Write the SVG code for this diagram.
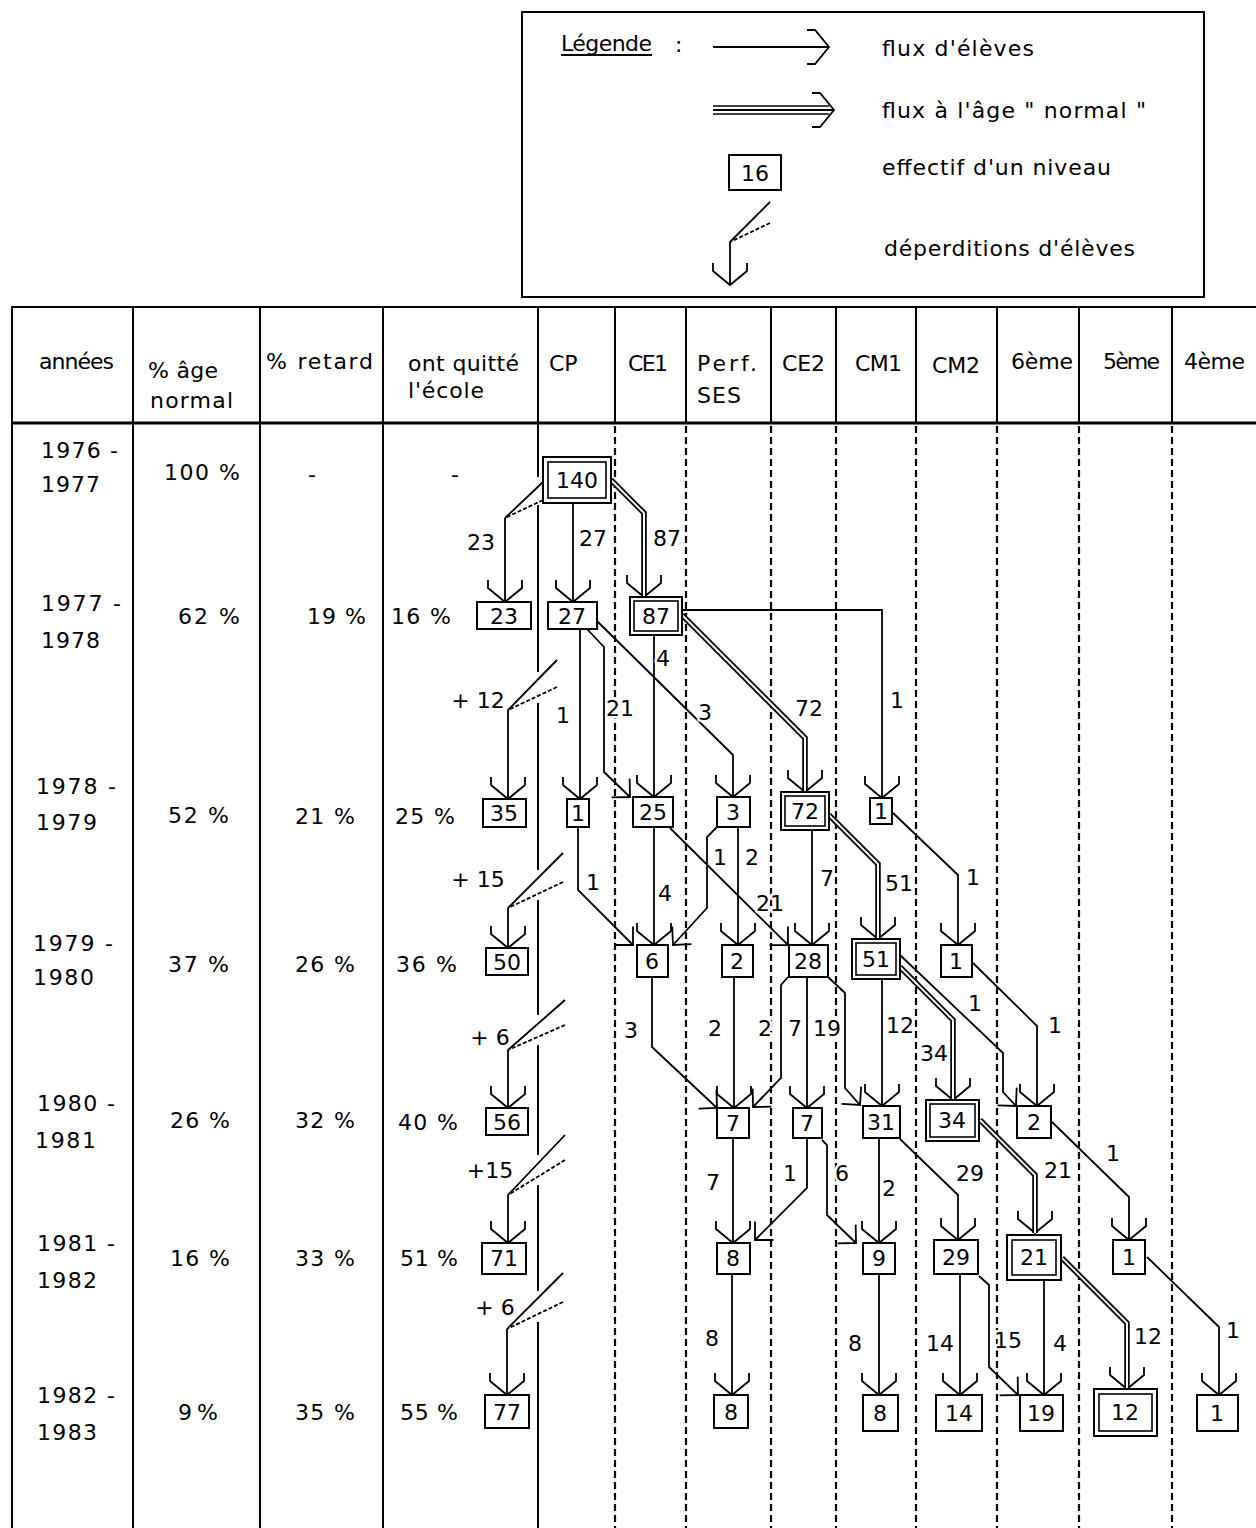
<svg xmlns="http://www.w3.org/2000/svg" width="1256" height="1528" viewBox="0 0 1256 1528">
<defs>
<marker id="av" markerUnits="userSpaceOnUse" markerWidth="40" markerHeight="40" viewBox="-30 -20 40 40" refX="0" refY="0" orient="auto" overflow="visible">
<path d="M-22,-17 L-14,-17 L0,0 L-14,17 L-22,17" fill="none" stroke="#000" stroke-width="1.8"/>
</marker>
<marker id="ad" markerUnits="userSpaceOnUse" markerWidth="40" markerHeight="40" viewBox="-30 -20 40 40" refX="0" refY="0" orient="auto" overflow="visible">
<path d="M-13,-13 L0,0 L-13,13" fill="none" stroke="#000" stroke-width="1.8"/>
</marker>
</defs>
<style>
.t{font-family:"DejaVu Sans","Liberation Sans",sans-serif;font-size:22px;fill:#000}
.c{text-anchor:middle;dominant-baseline:central}
.s{dominant-baseline:central}
.lb{paint-order:stroke;stroke:#fff;stroke-width:5px;stroke-linejoin:round}
.g line{stroke:#000;stroke-width:2}
.d line{stroke:#000;stroke-width:2.2;stroke-dasharray:7 4}
.f{fill:none;stroke:#000;stroke-width:1.8}
.a{marker-end:url(#av)}
.ad{marker-end:url(#ad)}
.l2{stroke-dasharray:4 2}
.db{fill:none;stroke:#000;stroke-width:5.5;marker-end:url(#av)}
.dw{fill:none;stroke:#fff;stroke-width:2}
.n rect{fill:#fff;stroke:#000;stroke-width:2}
.n rect.i{fill:none;stroke-width:1.6}
</style>
<rect width="1256" height="1528" fill="#fff"/>

<!-- Legend -->
<g id="legend">
<rect x="522" y="12" width="682" height="285" fill="none" stroke="#000" stroke-width="2"/>
<text class="t s" x="561" y="43" textLength="91">Légende</text>
<line x1="561" y1="55" x2="652" y2="55" stroke="#000" stroke-width="2"/>
<text class="t s" x="675" y="44">:</text>
<path class="f a" d="M713,47 H829"/>
<text class="t s" x="882" y="48" textLength="152">flux d'élèves</text>
<line x1="713" y1="106" x2="829" y2="106" stroke="#000" stroke-width="1.6"/>
<line x1="713" y1="114" x2="829" y2="114" stroke="#000" stroke-width="1.6"/>
<path class="f a" d="M713,110 H834"/>
<text class="t s" x="882" y="110" textLength="264">flux à l'âge " normal "</text>
<rect x="729" y="155" width="52" height="35" fill="#fff" stroke="#000" stroke-width="2"/>
<text class="t c" x="755" y="173">16</text>
<text class="t s" x="882" y="167" textLength="229">effectif d'un niveau</text>
<path class="f" d="M770,202 L730,242"/>
<path class="f l2" d="M770,223 L730,242"/>
<path class="f a" d="M730,242 V285"/>
<text class="t s" x="884" y="248" textLength="251">déperditions d'élèves</text>
</g>

<!-- Table -->
<g id="table">
<g class="g">
<line x1="11" y1="307" x2="1256" y2="307"/>
<line x1="11" y1="423" x2="1256" y2="423" style="stroke-width:3"/>
<line x1="12" y1="306" x2="12" y2="1528"/>
<line x1="133" y1="306" x2="133" y2="1528"/>
<line x1="260" y1="306" x2="260" y2="1528"/>
<line x1="383" y1="306" x2="383" y2="1528"/>
<line x1="538" y1="306" x2="538" y2="477"/>
<line x1="538" y1="505" x2="538" y2="672"/>
<line x1="538" y1="703" x2="538" y2="870"/>
<line x1="538" y1="900" x2="538" y2="1015"/>
<line x1="538" y1="1045" x2="538" y2="1155"/>
<line x1="538" y1="1185" x2="538" y2="1291"/>
<line x1="538" y1="1322" x2="538" y2="1528"/>
<line x1="615" y1="306" x2="615" y2="423"/>
<line x1="686" y1="306" x2="686" y2="423"/>
<line x1="771" y1="306" x2="771" y2="423"/>
<line x1="836" y1="306" x2="836" y2="423"/>
<line x1="916" y1="306" x2="916" y2="423"/>
<line x1="997" y1="306" x2="997" y2="423"/>
<line x1="1079" y1="306" x2="1079" y2="423"/>
<line x1="1172" y1="306" x2="1172" y2="423"/>
</g>
<g class="d">
<line x1="615" y1="426" x2="615" y2="1528"/>
<line x1="686" y1="426" x2="686" y2="1528"/>
<line x1="771" y1="426" x2="771" y2="1528"/>
<line x1="836" y1="426" x2="836" y2="1528"/>
<line x1="916" y1="426" x2="916" y2="1528"/>
<line x1="997" y1="426" x2="997" y2="1528"/>
<line x1="1079" y1="426" x2="1079" y2="1528"/>
<line x1="1172" y1="426" x2="1172" y2="1528"/>
</g>
<text class="t s" x="39" y="361" textLength="75">années</text>
<text class="t s" x="148" y="370" textLength="70">% âge</text>
<text class="t s" x="150" y="400" textLength="83">normal</text>
<text class="t s" x="266" y="361" textLength="107">% retard</text>
<text class="t s" x="408" y="363" textLength="111">ont quitté</text>
<text class="t s" x="408" y="390" textLength="76">l'école</text>
<text class="t s" x="549" y="363">CP</text>
<text class="t s" x="628" y="363" textLength="40">CE1</text>
<text class="t s" x="697" y="363" textLength="60">Perf.</text>
<text class="t s" x="697" y="395" textLength="44">SES</text>
<text class="t s" x="782" y="363" textLength="43">CE2</text>
<text class="t s" x="855" y="363" textLength="47">CM1</text>
<text class="t s" x="932" y="365" textLength="48">CM2</text>
<text class="t s" x="1011" y="361" textLength="62">6ème</text>
<text class="t s" x="1103" y="361" textLength="57">5ème</text>
<text class="t s" x="1184" y="361" textLength="61">4ème</text>

<text class="t s" x="41" y="450" textLength="77">1976 -</text>
<text class="t s" x="41" y="484" textLength="59">1977</text>
<text class="t s" x="164" y="472" textLength="76">100 %</text>
<text class="t c" x="312" y="474">-</text>
<text class="t c" x="455" y="474">-</text>

<text class="t s" x="41" y="603" textLength="80">1977 -</text>
<text class="t s" x="41" y="640" textLength="59">1978</text>
<text class="t s" x="178" y="616" textLength="62">62 %</text>
<text class="t s" x="307" y="616" textLength="59">19 %</text>
<text class="t s" x="391" y="616" textLength="60">16 %</text>

<text class="t s" x="36" y="786" textLength="80">1978 -</text>
<text class="t s" x="36" y="822" textLength="61">1979</text>
<text class="t s" x="168" y="815" textLength="61">52 %</text>
<text class="t s" x="295" y="816" textLength="60">21 %</text>
<text class="t s" x="395" y="816" textLength="60">25 %</text>

<text class="t s" x="33" y="943" textLength="80">1979 -</text>
<text class="t s" x="33" y="977" textLength="61">1980</text>
<text class="t s" x="168" y="964" textLength="61">37 %</text>
<text class="t s" x="295" y="964" textLength="60">26 %</text>
<text class="t s" x="396" y="964" textLength="61">36 %</text>

<text class="t s" x="37" y="1103" textLength="78">1980 -</text>
<text class="t s" x="35" y="1140" textLength="61">1981</text>
<text class="t s" x="170" y="1120" textLength="60">26 %</text>
<text class="t s" x="295" y="1120" textLength="60">32 %</text>
<text class="t s" x="398" y="1122" textLength="60">40 %</text>

<text class="t s" x="37" y="1243" textLength="78">1981 -</text>
<text class="t s" x="37" y="1280" textLength="60">1982</text>
<text class="t s" x="170" y="1258" textLength="60">16 %</text>
<text class="t s" x="295" y="1258" textLength="60">33 %</text>
<text class="t s" x="400" y="1258" textLength="58">51 %</text>

<text class="t s" x="37" y="1395" textLength="78">1982 -</text>
<text class="t s" x="37" y="1432" textLength="60">1983</text>
<text class="t s" x="178" y="1412" textLength="40">9 %</text>
<text class="t s" x="295" y="1412" textLength="60">35 %</text>
<text class="t s" x="400" y="1412" textLength="58">55 %</text>
</g>

<!-- Connectors -->
<g id="connectors">
<path class="f" d="M543,482 L505,518"/>
<path class="f l2" d="M543,500 L505,518"/>
<path class="f a" d="M505,518 V602"/>
<path class="f a" d="M573,503 V602"/>
<path class="f a" d="M682,610 H882 V798"/>
<path class="f a" d="M654,635 V797"/>
<path class="f a" d="M580,629 V799"/>
<path class="f ad" d="M587,629 L604,647 V772 L630,797"/>
<path class="f a" d="M597,621 L733,755 V797"/>
<path class="f" d="M557,660 L508,710"/>
<path class="f l2" d="M557,687 L508,710"/>
<path class="f a" d="M508,710 V799"/>
<path class="f ad" d="M578,827 V890 L633,945"/>
<path class="f a" d="M654,827 V945"/>
<path class="f ad" d="M670,828 L788,945"/>
<path class="f ad" d="M717,827 L707,837 V908 L673,945"/>
<path class="f a" d="M738,827 V945"/>
<path class="f a" d="M812,830 V945"/>
<path class="f a" d="M893,813 L958,875 V945"/>
<path class="f" d="M563,853 L508,908"/>
<path class="f l2" d="M563,882 L508,908"/>
<path class="f a" d="M508,908 V948"/>
<path class="f ad" d="M652,977 V1047 L717,1108"/>
<path class="f a" d="M734,977 V1108"/>
<path class="f ad" d="M788,977 L781,985 V1078 L753,1107"/>
<path class="f a" d="M807,977 V1108"/>
<path class="f ad" d="M828,977 L845,993 V1088 L860,1105"/>
<path class="f a" d="M882,979 V1106"/>
<path class="f ad" d="M900,955 L1003,1053 V1092 L1016,1106"/>
<path class="f a" d="M973,963 L1037,1026 V1106"/>
<path class="f" d="M565,1000 L508,1050"/>
<path class="f l2" d="M565,1025 L508,1050"/>
<path class="f a" d="M508,1050 V1108"/>
<path class="f a" d="M733,1138 V1243"/>
<path class="f ad" d="M807,1138 V1188 L755,1240"/>
<path class="f ad" d="M822,1140 L827,1145 V1215 L856,1243"/>
<path class="f a" d="M879,1138 V1243"/>
<path class="f a" d="M900,1139 L958,1195 V1240"/>
<path class="f a" d="M1052,1122 L1129,1197 V1240"/>
<path class="f" d="M565,1135 L508,1195"/>
<path class="f l2" d="M565,1160 L508,1195"/>
<path class="f a" d="M508,1195 V1243"/>
<path class="f a" d="M732,1274 V1395"/>
<path class="f a" d="M879,1274 V1395"/>
<path class="f a" d="M960,1274 V1395"/>
<path class="f ad" d="M979,1276 L989,1285 V1367 L1018,1395"/>
<path class="f a" d="M1044,1280 V1395"/>
<path class="f a" d="M1147,1257 L1219,1327 V1395"/>
<path class="f" d="M563,1273 L507,1329"/>
<path class="f l2" d="M563,1302 L507,1329"/>
<path class="f a" d="M507,1329 V1395"/>
<path class="db" d="M611,480 L644,513 V597"/><path class="dw" d="M611,480 L644,513 V597"/>
<path class="db" d="M682,615 L805,738 V792"/><path class="dw" d="M682,615 L805,738 V792"/>
<path class="db" d="M829,815 L878,864 V939"/><path class="dw" d="M829,815 L878,864 V939"/>
<path class="db" d="M900,967 L953,1020 V1100"/><path class="dw" d="M900,967 L953,1020 V1100"/>
<path class="db" d="M980,1120 L1035,1175 V1233"/><path class="dw" d="M980,1120 L1035,1175 V1233"/>
<path class="db" d="M1062,1258 L1127,1323 V1389"/><path class="dw" d="M1062,1258 L1127,1323 V1389"/>
<g class="lbl">
<text class="t c lb" x="481" y="542">23</text>
<text class="t c lb" x="593" y="538">27</text>
<text class="t c lb" x="667" y="538">87</text>
<text class="t c lb" x="663" y="658">4</text>
<text class="t c lb" x="897" y="700">1</text>
<text class="t c lb" x="809" y="708">72</text>
<text class="t c lb" x="563" y="715">1</text>
<text class="t c lb" x="620" y="708">21</text>
<text class="t c lb" x="705" y="712">3</text>
<text class="t c lb" x="478" y="700">+ 12</text>
<text class="t c lb" x="593" y="882">1</text>
<text class="t c lb" x="665" y="893">4</text>
<text class="t c lb" x="720" y="857">1</text>
<text class="t c lb" x="752" y="857">2</text>
<text class="t c lb" x="770" y="903">21</text>
<text class="t c lb" x="827" y="878">7</text>
<text class="t c lb" x="899" y="883">51</text>
<text class="t c lb" x="973" y="877">1</text>
<text class="t c lb" x="478" y="879">+ 15</text>
<text class="t c lb" x="631" y="1030">3</text>
<text class="t c lb" x="715" y="1028">2</text>
<text class="t c lb" x="765" y="1028">2</text>
<text class="t c lb" x="795" y="1028">7</text>
<text class="t c lb" x="827" y="1028">19</text>
<text class="t c lb" x="900" y="1025">12</text>
<text class="t c lb" x="934" y="1053">34</text>
<text class="t c lb" x="975" y="1003">1</text>
<text class="t c lb" x="1055" y="1025">1</text>
<text class="t c lb" x="490" y="1037">+ 6</text>
<text class="t c lb" x="713" y="1182">7</text>
<text class="t c lb" x="790" y="1173">1</text>
<text class="t c lb" x="842" y="1173">6</text>
<text class="t c lb" x="889" y="1188">2</text>
<text class="t c lb" x="970" y="1173">29</text>
<text class="t c lb" x="1058" y="1170">21</text>
<text class="t c lb" x="1113" y="1153">1</text>
<text class="t c lb" x="490" y="1170">+15</text>
<text class="t c lb" x="712" y="1338">8</text>
<text class="t c lb" x="855" y="1343">8</text>
<text class="t c lb" x="940" y="1343">14</text>
<text class="t c lb" x="1008" y="1340">15</text>
<text class="t c lb" x="1060" y="1343">4</text>
<text class="t c lb" x="1148" y="1336">12</text>
<text class="t c lb" x="1233" y="1330">1</text>
<text class="t c lb" x="495" y="1307">+ 6</text>
</g>
</g>

<!-- Nodes -->
<g id="nodes">
<g id="n140" class="n"><rect x="543" y="457" width="68" height="46"/><rect class="i" x="548" y="462" width="58" height="36"/><text class="t c" x="577" y="480">140</text></g>
<g id="n23" class="n"><rect x="477" y="602" width="54" height="27"/><text class="t c" x="504" y="616">23</text></g>
<g id="n27" class="n"><rect x="548" y="602" width="49" height="27"/><text class="t c" x="572" y="616">27</text></g>
<g id="n87" class="n"><rect x="630" y="597" width="52" height="38"/><rect class="i" x="634" y="601" width="44" height="30"/><text class="t c" x="656" y="616">87</text></g>
<g id="n35" class="n"><rect x="483" y="799" width="43" height="28"/><text class="t c" x="504" y="813">35</text></g>
<g id="n1a" class="n"><rect x="567" y="799" width="22" height="28"/><text class="t c" x="578" y="813">1</text></g>
<g id="n25" class="n"><rect x="633" y="797" width="40" height="30"/><text class="t c" x="653" y="812">25</text></g>
<g id="n3" class="n"><rect x="717" y="797" width="33" height="30"/><text class="t c" x="733" y="812">3</text></g>
<g id="n72" class="n"><rect x="781" y="792" width="48" height="38"/><rect class="i" x="785" y="796" width="40" height="30"/><text class="t c" x="805" y="811">72</text></g>
<g id="n1b" class="n"><rect x="870" y="798" width="22" height="26"/><text class="t c" x="881" y="811">1</text></g>
<g id="n50" class="n"><rect x="486" y="948" width="42" height="27"/><text class="t c" x="507" y="962">50</text></g>
<g id="n6" class="n"><rect x="637" y="945" width="31" height="32"/><text class="t c" x="652" y="961">6</text></g>
<g id="n2a" class="n"><rect x="722" y="945" width="31" height="32"/><text class="t c" x="737" y="961">2</text></g>
<g id="n28" class="n"><rect x="789" y="945" width="39" height="32"/><text class="t c" x="808" y="961">28</text></g>
<g id="n51" class="n"><rect x="852" y="939" width="48" height="40"/><rect class="i" x="856" y="943" width="40" height="32"/><text class="t c" x="876" y="959">51</text></g>
<g id="n1c" class="n"><rect x="941" y="945" width="31" height="32"/><text class="t c" x="956" y="961">1</text></g>
<g id="n56" class="n"><rect x="486" y="1108" width="42" height="27"/><text class="t c" x="507" y="1122">56</text></g>
<g id="n7a" class="n"><rect x="717" y="1108" width="32" height="30"/><text class="t c" x="733" y="1123">7</text></g>
<g id="n7b" class="n"><rect x="793" y="1108" width="29" height="30"/><text class="t c" x="807" y="1123">7</text></g>
<g id="n31" class="n"><rect x="863" y="1106" width="37" height="32"/><text class="t c" x="881" y="1122">31</text></g>
<g id="n34" class="n"><rect x="926" y="1100" width="53" height="41"/><rect class="i" x="930" y="1104" width="45" height="33"/><text class="t c" x="952" y="1120">34</text></g>
<g id="n2b" class="n"><rect x="1017" y="1106" width="34" height="32"/><text class="t c" x="1034" y="1122">2</text></g>
<g id="n71" class="n"><rect x="482" y="1243" width="44" height="31"/><text class="t c" x="504" y="1258">71</text></g>
<g id="n8a" class="n"><rect x="717" y="1243" width="33" height="31"/><text class="t c" x="733" y="1258">8</text></g>
<g id="n9" class="n"><rect x="863" y="1243" width="32" height="31"/><text class="t c" x="879" y="1258">9</text></g>
<g id="n29" class="n"><rect x="934" y="1240" width="44" height="34"/><text class="t c" x="956" y="1257">29</text></g>
<g id="n21" class="n"><rect x="1007" y="1235" width="54" height="45"/><rect class="i" x="1012" y="1240" width="44" height="35"/><text class="t c" x="1034" y="1257">21</text></g>
<g id="n1d" class="n"><rect x="1113" y="1240" width="32" height="34"/><text class="t c" x="1129" y="1257">1</text></g>
<g id="n77" class="n"><rect x="485" y="1395" width="44" height="33"/><text class="t c" x="507" y="1412">77</text></g>
<g id="n8b" class="n"><rect x="714" y="1395" width="34" height="33"/><text class="t c" x="731" y="1412">8</text></g>
<g id="n8c" class="n"><rect x="863" y="1395" width="35" height="36"/><text class="t c" x="880" y="1413">8</text></g>
<g id="n14" class="n"><rect x="936" y="1395" width="46" height="36"/><text class="t c" x="959" y="1413">14</text></g>
<g id="n19" class="n"><rect x="1020" y="1395" width="43" height="36"/><text class="t c" x="1041" y="1413">19</text></g>
<g id="n12" class="n"><rect x="1094" y="1389" width="63" height="47"/><rect class="i" x="1099" y="1394" width="53" height="37"/><text class="t c" x="1125" y="1412">12</text></g>
<g id="n1e" class="n"><rect x="1197" y="1395" width="41" height="36"/><text class="t c" x="1217" y="1413">1</text></g>
</g>
</svg>
